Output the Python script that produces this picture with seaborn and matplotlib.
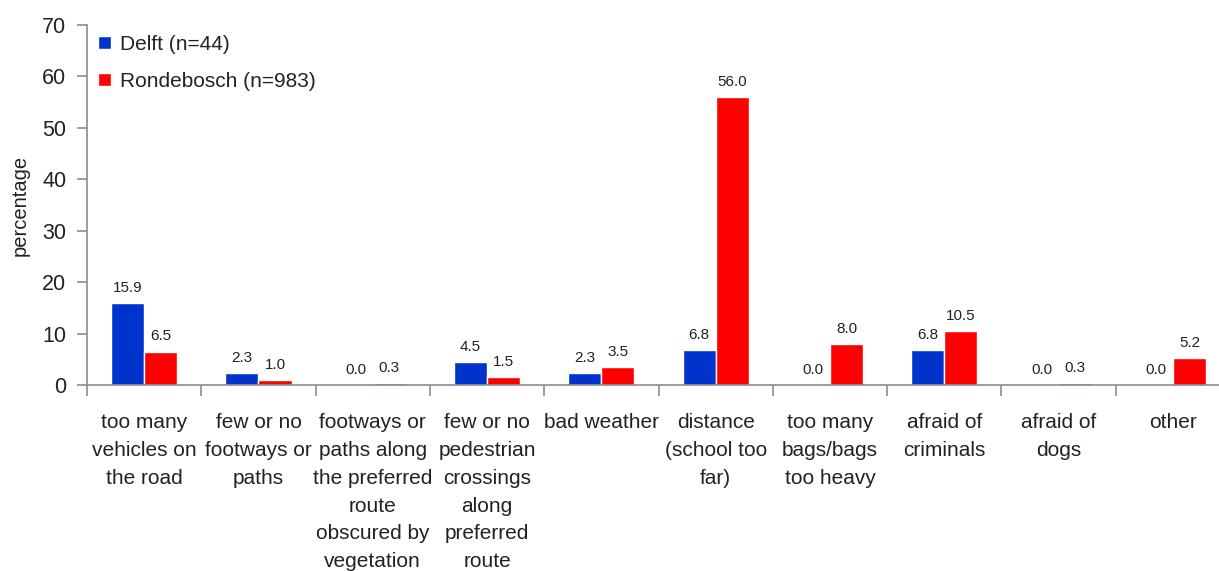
import matplotlib
matplotlib.use("Agg")
import matplotlib.pyplot as plt
from matplotlib.ticker import FixedLocator, NullFormatter
import seaborn as sns
import pandas as pd
import numpy as np

categories = [
    "too many\nvehicles on\nthe road",
    "few or no\nfootways or\npaths",
    "footways or\npaths along\nthe preferred\nroute\nobscured by\nvegetation",
    "few or no\npedestrian\ncrossings\nalong\npreferred\nroute",
    "bad weather",
    "distance\n(school too\nfar)",
    "too many\nbags/bags\ntoo heavy",
    "afraid of\ncriminals",
    "afraid of\ndogs",
    "other",
]
delft = [15.9, 2.3, 0.0, 4.5, 2.3, 6.8, 0.0, 6.8, 0.0, 0.0]
rondebosch = [6.5, 1.0, 0.3, 1.5, 3.5, 56.0, 8.0, 10.5, 0.3, 5.2]
series_names = ["Delft (n=44)", "Rondebosch (n=983)"]
colors = ["#0033CC", "#FF0000"]

df = pd.DataFrame({
    "category": categories * 2,
    "value": delft + rondebosch,
    "series": [series_names[0]] * len(categories) + [series_names[1]] * len(categories),
})

sns.set_style("white")
plt.rcParams["font.family"] = ["Liberation Sans", "DejaVu Sans"]

fig = plt.figure(figsize=(12.19, 5.71), dpi=100)
ax = fig.add_axes([87 / 1219, 186 / 571, 1143 / 1219, 360 / 571])

sns.barplot(data=df, x="category", y="value", hue="series", palette=colors,
            width=0.58, saturation=1, ax=ax, order=categories,
            hue_order=series_names, errorbar=None)

for cont in ax.containers:
    ax.bar_label(cont, fmt="%.1f", padding=6, fontsize=11, color="#222222")

ax.set_ylim(0, 70)
ax.set_xlim(-0.5, len(categories) - 0.5)
ax.set_yticks(np.arange(0, 71, 10))
ax.set_xlabel("")
ax.set_ylabel("percentage", fontsize=14.5, color="#222222", labelpad=9)

for side in ["top", "right"]:
    ax.spines[side].set_visible(False)
for side in ["left", "bottom"]:
    ax.spines[side].set_color("#8c8c8c")
    ax.spines[side].set_linewidth(1.2)

ax.tick_params(axis="y", which="major", left=True, length=7, width=1.2,
               color="#8c8c8c", labelsize=15.5, labelcolor="#222222", pad=8)
ax.tick_params(axis="x", which="major", bottom=False, labelsize=15,
               labelcolor="#222222", pad=17)
ax.xaxis.set_minor_locator(FixedLocator(np.arange(-0.5, len(categories), 1.0)))
ax.xaxis.set_minor_formatter(NullFormatter())
ax.tick_params(axis="x", which="minor", bottom=True, length=8, width=1.2,
               color="#8c8c8c")
for lbl in ax.get_xticklabels():
    lbl.set_linespacing(1.58)
    lbl.set_verticalalignment("top")

leg = ax.legend(loc="upper left", bbox_to_anchor=(-0.003, 1.013), frameon=False,
                fontsize=15, handlelength=0.6, handleheight=0.6,
                handletextpad=0.45, labelspacing=0.85, borderaxespad=0.3)
for t in leg.get_texts():
    t.set_color("#222222")

fig.savefig("out.png", dpi=100)
